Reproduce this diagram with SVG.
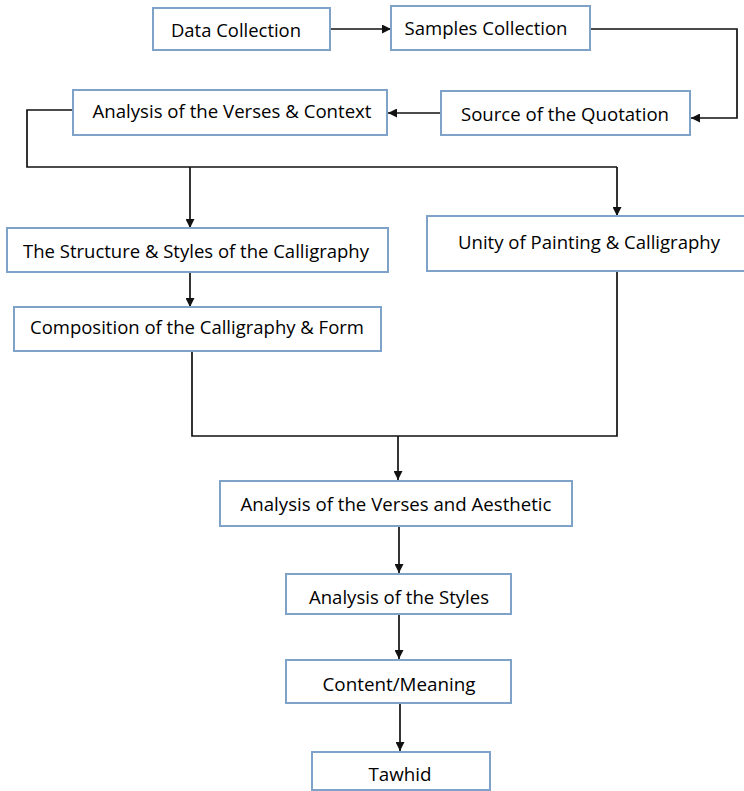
<svg xmlns="http://www.w3.org/2000/svg" width="744" height="791" viewBox="0 0 744 791">
<defs>
<style>
.box{fill:#fff;stroke:#7ea2c8;stroke-width:2}
.t{font-family:"Open Sans","Liberation Sans",sans-serif;font-size:18.5px;fill:#000;text-anchor:middle;dominant-baseline:central}
.c{fill:none;stroke:#111;stroke-width:1.7}
</style>
<marker id="ah" viewBox="0 0 10 10" refX="10" refY="5" markerWidth="9" markerHeight="9" orient="auto" markerUnits="userSpaceOnUse">
<path d="M0,0 L10,5 L0,10 z" fill="#111"/>
</marker>
</defs>
<rect width="744" height="791" fill="#fff"/>
<g id="connectors">
<path class="c" d="M330,29 H391" marker-end="url(#ah)"/>
<path class="c" d="M590,29 H737 V118 H691" marker-end="url(#ah)"/>
<path class="c" d="M441,113 H388" marker-end="url(#ah)"/>
<path class="c" d="M73,110 H27 V167 H617"/>
<path class="c" d="M190,167 V228" marker-end="url(#ah)"/>
<path class="c" d="M617,167 V216" marker-end="url(#ah)"/>
<path class="c" d="M190,272 V307" marker-end="url(#ah)"/>
<path class="c" d="M192,351 V436 H617 V271"/>
<path class="c" d="M398,436 V480" marker-end="url(#ah)"/>
<path class="c" d="M399,526 V573" marker-end="url(#ah)"/>
<path class="c" d="M399,614 V659" marker-end="url(#ah)"/>
<path class="c" d="M400,703 V751" marker-end="url(#ah)"/>
</g>
<g id="n1"><rect class="box" x="153" y="8" width="177" height="42"/><text class="t" x="236" y="29" textLength="130" lengthAdjust="spacingAndGlyphs">Data Collection</text></g>
<g id="n2"><rect class="box" x="391" y="6" width="199" height="44"/><text class="t" x="486" y="27" textLength="163" lengthAdjust="spacingAndGlyphs">Samples Collection</text></g>
<g id="n3"><rect class="box" x="441" y="91" width="249" height="44"/><text class="t" x="565" y="113" textLength="208" lengthAdjust="spacingAndGlyphs">Source of the Quotation</text></g>
<g id="n4"><rect class="box" x="73" y="90" width="314" height="45"/><text class="t" x="232" y="110" textLength="279" lengthAdjust="spacingAndGlyphs">Analysis of the Verses &amp; Context</text></g>
<g id="n5"><rect class="box" x="7" y="228" width="381" height="44"/><text class="t" x="196" y="250" textLength="346" lengthAdjust="spacingAndGlyphs">The Structure &amp; Styles of the Calligraphy</text></g>
<g id="n6"><rect class="box" x="427" y="216" width="320" height="55"/><text class="t" x="589" y="241" textLength="262" lengthAdjust="spacingAndGlyphs">Unity of Painting &amp; Calligraphy</text></g>
<g id="n7"><rect class="box" x="14" y="307" width="367" height="44"/><text class="t" x="197" y="326" textLength="334" lengthAdjust="spacingAndGlyphs">Composition of the Calligraphy &amp; Form</text></g>
<g id="n8"><rect class="box" x="220" y="481" width="352" height="45"/><text class="t" x="396" y="503" textLength="311" lengthAdjust="spacingAndGlyphs">Analysis of the Verses and Aesthetic</text></g>
<g id="n9"><rect class="box" x="286" y="574" width="225" height="40"/><text class="t" x="399" y="596" textLength="180" lengthAdjust="spacingAndGlyphs">Analysis of the Styles</text></g>
<g id="n10"><rect class="box" x="286" y="660" width="225" height="43"/><text class="t" x="399" y="683" textLength="153" lengthAdjust="spacingAndGlyphs">Content/Meaning</text></g>
<g id="n11"><rect class="box" x="312" y="752" width="178" height="38"/><text class="t" x="400" y="773" textLength="63" lengthAdjust="spacingAndGlyphs">Tawhid</text></g>
</svg>
